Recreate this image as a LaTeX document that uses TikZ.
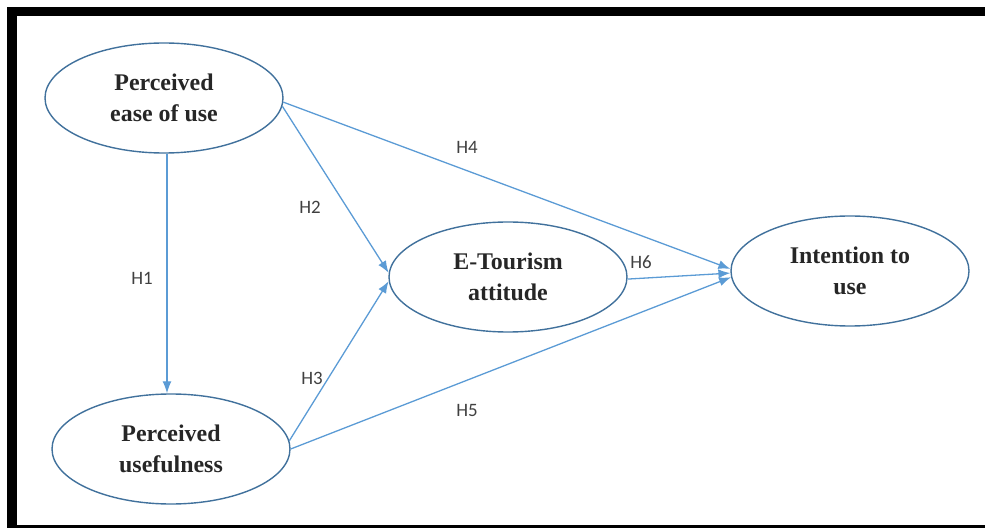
\documentclass[tikz,border=0pt]{standalone}
\usepackage{fontspec}
\setmainfont{Liberation Serif}
\newfontfamily\hfont{Carlito}
\usetikzlibrary{shapes.geometric,arrows.meta}
\definecolor{lineblue}{RGB}{91,155,213}
\definecolor{ringblue}{RGB}{65,113,156}
\tikzset{construct/.style={ellipse,draw=ringblue,line width=1.4bp,minimum width=238bp,minimum height=110bp,inner sep=0pt,align=center,font=\fontsize{24}{31}\selectfont\bfseries,text=black!85}}
\tikzset{link/.style={lineblue,line width=1.3bp,-{Latex[length=12bp,width=9bp]}}}
\tikzset{hyp/.style={font=\hfont\fontsize{19}{19}\selectfont,text=black!75}}

\begin{document}
\begin{tikzpicture}[x=1bp,y=-1bp]
	\useasboundingbox (0,0) rectangle (985,528);
	% frame
	\fill (7,7) rectangle (985,16);
	\fill (7,7) rectangle (17,528);
	\fill (7,525) rectangle (985,528);

	\node[construct] (eou) at (164,98) {Perceived\\ease of use};
	\node[construct] (use) at (171,449) {Perceived\\usefulness};
	\node[construct] (att) at (508,277) {E-Tourism\\attitude};
	\node[construct] (int) at (850,271) {Intention to\\use};

	\draw[link] ([xshift=3bp]eou.south) -- ([xshift=3bp]eou.south |- use.north);
	\draw[link] (eou.-4) -- (att.178);
	\draw[link] (use.4) -- (att.182);
	\draw[link] (eou.-2) -- (int.179);
	\draw[link] (use.0) -- (int.183);
	\draw[link] (att.-1) -- (int.181);

	\node[hyp] (h1) at (142,278) {H1};
	\node[hyp] (h2) at (310,207) {H2};
	\node[hyp] (h3) at (312,378) {H3};
	\node[hyp] (h4) at (467,147) {H4};
	\node[hyp] (h5) at (467,410) {H5};
	\node[hyp] (h6) at (641,262) {H6};
\end{tikzpicture}
\end{document}
